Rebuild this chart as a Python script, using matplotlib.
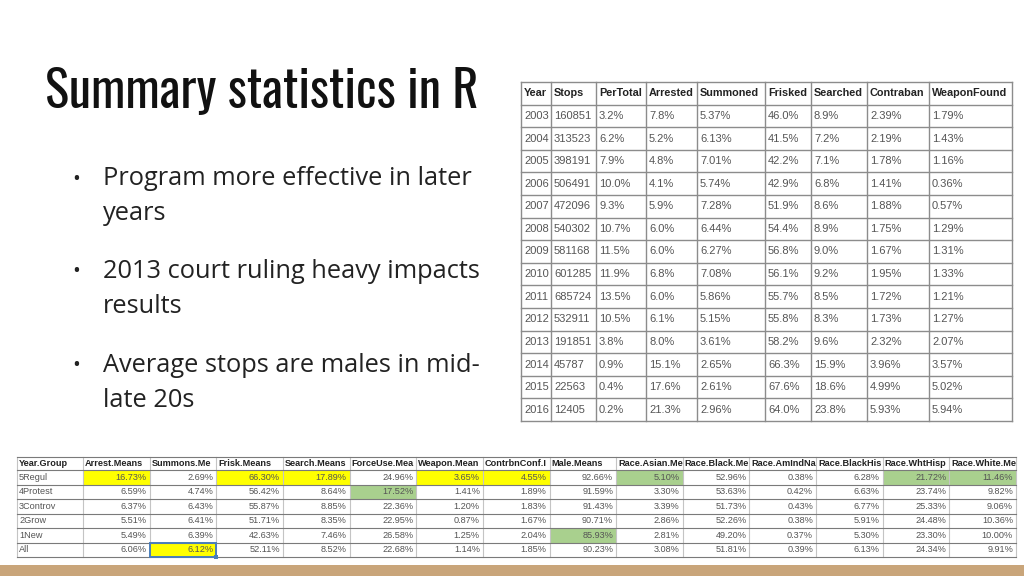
import matplotlib
matplotlib.use("Agg")
import matplotlib.pyplot as plt
from matplotlib import font_manager
from matplotlib.patches import Rectangle

# ---- slide text ----
title = "Summary statistics in R"
bullets = [
    ["Program more effective in later", "years"],
    ["2013 court ruling heavy impacts", "results"],
    ["Average stops are males in mid-", "late 20s"],
]

# ---- yearly table ----
top_headers = ["Year", "Stops", "PerTotal", "Arrested", "Summoned", "Frisked",
               "Searched", "Contraban", "WeaponFound"]
years = [2003, 2004, 2005, 2006, 2007, 2008, 2009, 2010, 2011, 2012, 2013, 2014, 2015, 2016]
stops = [160851, 313523, 398191, 506491, 472096, 540302, 581168, 601285, 685724,
         532911, 191851, 45787, 22563, 12405]
per_total = [3.2, 6.2, 7.9, 10.0, 9.3, 10.7, 11.5, 11.9, 13.5, 10.5, 3.8, 0.9, 0.4, 0.2]
arrested = [7.8, 5.2, 4.8, 4.1, 5.9, 6.0, 6.0, 6.8, 6.0, 6.1, 8.0, 15.1, 17.6, 21.3]
summoned = [5.37, 6.13, 7.01, 5.74, 7.28, 6.44, 6.27, 7.08, 5.86, 5.15, 3.61, 2.65, 2.61, 2.96]
frisked = [46.0, 41.5, 42.2, 42.9, 51.9, 54.4, 56.8, 56.1, 55.7, 55.8, 58.2, 66.3, 67.6, 64.0]
searched = [8.9, 7.2, 7.1, 6.8, 8.6, 8.9, 9.0, 9.2, 8.5, 8.3, 9.6, 15.9, 18.6, 23.8]
contraban = [2.39, 2.19, 1.78, 1.41, 1.88, 1.75, 1.67, 1.95, 1.72, 1.73, 2.32, 3.96, 4.99, 5.93]
weapon_found = [1.79, 1.43, 1.16, 0.36, 0.57, 1.29, 1.31, 1.33, 1.21, 1.27, 2.07, 3.57, 5.02, 5.94]

# ---- group means table ----
group_headers = ["Year.Group", "Arrest.Means", "Summons.Me", "Frisk.Means", "Search.Means",
                 "ForceUse.Mea", "Weapon.Mean", "ContrbnConf.I", "Male.Means",
                 "Race.Asian.Me", "Race.Black.Me", "Race.AmIndNa", "Race.BlackHis",
                 "Race.WhtHisp", "Race.White.Me"]
groups = ["5Regul", "4Protest", "3Controv", "2Grow", "1New", "All"]
arrest_means = [16.73, 6.59, 6.37, 5.51, 5.49, 6.06]
summons_means = [2.69, 4.74, 6.43, 6.41, 6.39, 6.12]
frisk_means = [66.30, 56.42, 55.87, 51.71, 42.63, 52.11]
search_means = [17.89, 8.64, 8.85, 8.35, 7.46, 8.52]
forceuse_means = [24.96, 17.52, 22.36, 22.95, 26.58, 22.68]
weapon_means = [3.65, 1.41, 1.20, 0.87, 1.25, 1.14]
contrbn_means = [4.55, 1.89, 1.83, 1.67, 2.04, 1.85]
male_means = [92.66, 91.59, 91.43, 90.71, 85.93, 90.23]
asian_means = [5.10, 3.30, 3.39, 2.86, 2.81, 3.08]
black_means = [52.96, 53.63, 51.73, 52.26, 49.20, 51.81]
amind_means = [0.38, 0.42, 0.43, 0.38, 0.37, 0.39]
blackhis_means = [6.28, 6.63, 6.77, 5.91, 5.30, 6.13]
whthisp_means = [21.72, 23.74, 25.33, 24.48, 23.30, 24.34]
white_means = [11.46, 9.82, 9.06, 10.36, 10.00, 9.91]

YELLOW = "#FFFF00"
GREEN = "#A9D08E"
# (row, col) -> fill colour in the group table
highlights = {
    (0, 1): YELLOW, (0, 3): YELLOW, (0, 4): YELLOW, (0, 6): YELLOW, (0, 7): YELLOW,
    (5, 2): YELLOW, (1, 5): GREEN, (0, 9): GREEN, (0, 13): GREEN, (0, 14): GREEN,
    (4, 8): GREEN,
}

# pick the narrowest installed face for the title (reference uses a condensed font)
_installed = {f.name for f in font_manager.fontManager.ttflist}
title_family, title_stretch = "DejaVu Sans", "condensed"
for cand in ["Oswald", "Roboto Condensed", "Open Sans Condensed", "Liberation Sans Narrow",
             "DejaVu Sans Condensed", "Noto Sans Condensed"]:
    if cand in _installed:
        title_family, title_stretch = cand, "normal"
        break

fig = plt.figure(figsize=(10.24, 5.76), dpi=100, facecolor="white")
ax = fig.add_axes([0, 0, 1, 1])
ax.set_xlim(0, 1024)
ax.set_ylim(576, 0)
ax.axis("off")

# title, scaled so it spans the same width as the reference
t = ax.text(45, 108, title, fontsize=40, color="#111111", ha="left", va="baseline",
            family=[title_family, "DejaVu Sans"], fontstretch=title_stretch, fontweight="light")
renderer = fig.canvas.get_renderer()
w = t.get_window_extent(renderer).width
t.set_fontsize(min(46, 40 * 433 / w))

bullet_y = [185, 278, 372]
for y0, lines in zip(bullet_y, bullets):
    ax.text(76, y0 - 6, "\u2022", fontsize=15, color="#222222", ha="center", va="center",
            family=["Open Sans", "DejaVu Sans"])
    for k, line in enumerate(lines):
        ax.text(103, y0 + k * 35, line, fontsize=18.3, color="#222222", ha="left",
                va="baseline", family=["Open Sans", "DejaVu Sans"])

# --- yearly table ---
top_cols = [521, 551, 596, 646, 697, 765, 811, 867, 929, 1012]
top_y0, row_h = 82, 22.6
fmt_rows = []
for i in range(len(years)):
    fmt_rows.append([str(years[i]), str(stops[i]), f"{per_total[i]:.1f}%", f"{arrested[i]:.1f}%",
                     f"{summoned[i]:.2f}%", f"{frisked[i]:.1f}%", f"{searched[i]:.1f}%",
                     f"{contraban[i]:.2f}%", f"{weapon_found[i]:.2f}%"])
n_top = len(years) + 1
y_bottom = top_y0 + n_top * row_h
for r in range(n_top + 1):
    ax.plot([top_cols[0], top_cols[-1]], [top_y0 + r * row_h] * 2, color="#8c8c8c", lw=1)
for x in top_cols:
    ax.plot([x, x], [top_y0, y_bottom], color="#8c8c8c", lw=1)
for j, h in enumerate(top_headers):
    ax.text(top_cols[j] + 3, top_y0 + row_h / 2, h, fontsize=7.8, fontweight="bold",
            color="#222222", ha="left", va="center", family="Liberation Sans")
for i, row in enumerate(fmt_rows):
    yc = top_y0 + (i + 1.5) * row_h
    for j, val in enumerate(row):
        ax.text(top_cols[j] + 3, yc, val, fontsize=8, color="#555555", ha="left",
                va="center", family="Liberation Sans")

# --- group means table ---
g_cols = [17, 83]
for k in range(14):
    g_cols.append(83 + (k + 1) * (1016 - 83) / 14)
g_y = [457, 470]
for k in range(6):
    g_y.append(470 + (k + 1) * 14.5)
g_values = [arrest_means, summons_means, frisk_means, search_means, forceuse_means,
            weapon_means, contrbn_means, male_means, asian_means, black_means,
            amind_means, blackhis_means, whthisp_means, white_means]

for (r, c), col in highlights.items():
    ax.add_patch(Rectangle((g_cols[c], g_y[r + 1]), g_cols[c + 1] - g_cols[c],
                           g_y[r + 2] - g_y[r + 1], facecolor=col, edgecolor="none", zorder=1))
for x in g_cols:
    ax.plot([x, x], [g_y[0], g_y[-1]], color="#c4c4c4", lw=0.8, zorder=2)
for y in g_y:
    ax.plot([g_cols[0], g_cols[-1]], [y, y], color="#7a7a7a", lw=0.8, zorder=2)

for j, h in enumerate(group_headers):
    ax.text(g_cols[j] + 2, (g_y[0] + g_y[1]) / 2, h, fontsize=6.6, fontweight="bold",
            color="#222222", ha="left", va="center", family="Liberation Sans", zorder=3)
for i, g in enumerate(groups):
    yc = (g_y[i + 1] + g_y[i + 2]) / 2
    ax.text(g_cols[0] + 2, yc, g, fontsize=6.6, color="#555555", ha="left", va="center",
            family="Liberation Sans", zorder=3)
    for j, vals in enumerate(g_values):
        ax.text(g_cols[j + 2] - 3, yc, f"{vals[i]:.2f}%", fontsize=6.6, color="#555555",
                ha="right", va="center", family="Liberation Sans", zorder=3)

# selected cell outline (All / Summons)
ax.add_patch(Rectangle((g_cols[2], g_y[6]), g_cols[3] - g_cols[2], g_y[7] - g_y[6],
                       facecolor="none", edgecolor="#4a7ebb", lw=1.4, zorder=4))
ax.add_patch(Rectangle((g_cols[3] - 2, g_y[7] - 2), 4, 4, facecolor="#4a7ebb",
                       edgecolor="none", zorder=5))

# bottom band
ax.add_patch(Rectangle((0, 565), 1024, 11, facecolor="#C9A57A", edgecolor="none", zorder=1))

fig.savefig("out.png", dpi=100, facecolor="white")
